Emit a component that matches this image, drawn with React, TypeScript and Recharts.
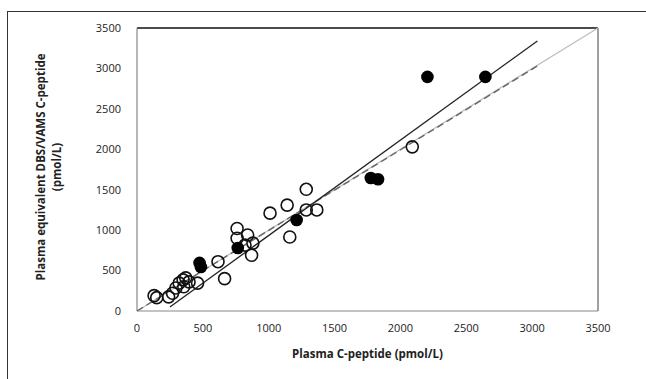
import React from 'react';
import { ScatterChart, Scatter, XAxis, YAxis, ReferenceLine } from 'recharts';

// open circles (one sample type)
const openPoints = [
  { x: 130, y: 190 }, { x: 150, y: 165 }, { x: 240, y: 175 }, { x: 270, y: 220 },
  { x: 295, y: 285 }, { x: 320, y: 345 }, { x: 350, y: 385 }, { x: 370, y: 410 },
  { x: 355, y: 300 }, { x: 395, y: 360 }, { x: 460, y: 345 }, { x: 615, y: 610 },
  { x: 665, y: 400 }, { x: 760, y: 1020 }, { x: 760, y: 900 }, { x: 840, y: 940 },
  { x: 820, y: 815 }, { x: 880, y: 840 }, { x: 870, y: 690 }, { x: 1010, y: 1210 },
  { x: 1140, y: 1310 }, { x: 1160, y: 915 }, { x: 1285, y: 1505 }, { x: 1285, y: 1250 },
  { x: 1365, y: 1250 }, { x: 2090, y: 2030 },
];

// filled circles (other sample type)
const filledPoints = [
  { x: 475, y: 595 }, { x: 485, y: 545 }, { x: 765, y: 780 }, { x: 1212, y: 1125 },
  { x: 1775, y: 1645 }, { x: 1830, y: 1630 }, { x: 2205, y: 2895 }, { x: 2645, y: 2895 },
];

const identityLine = [{ x: 0, y: 0 }, { x: 3500, y: 3500 }];
const dashedFit = [{ x: 0, y: 0 }, { x: 3050, y: 3040 }];
const solidFit = [{ x: 250, y: 50 }, { x: 3040, y: 3340 }];

const ticks = [0, 500, 1000, 1500, 2000, 2500, 3000, 3500];

const font = '"Open Sans", sans-serif';
const noShape = () => <g />;

const OpenDot = (p: any) => (
  <circle cx={p.cx} cy={p.cy} r={6} fill="none" stroke="#111" strokeWidth={1.6} />
);
const FilledDot = (p: any) => <circle cx={p.cx} cy={p.cy} r={6.3} fill="#000" />;

export default function App() {
  return (
    <div style={{ position: 'absolute', left: 0, top: 0, width: 646, height: 379, background: '#fff', fontFamily: font }}>
      <div style={{ position: 'absolute', left: 7, top: 11, width: 650, height: 380, borderLeft: '1.5px solid #333', borderTop: '1.5px solid #333' }} />
      <ScatterChart width={646} height={379} margin={{ top: 28, right: 48, bottom: 38, left: 87 }}>
        <XAxis
          type="number"
          dataKey="x"
          domain={[0, 3500]}
          ticks={ticks}
          height={30}
          tickLine={false}
          axisLine={{ stroke: '#888', strokeWidth: 1.2 }}
          tick={{ fill: '#222', fontSize: 11, fontFamily: font }}
          tickMargin={7}
          label={{ value: 'Plasma C-peptide (pmol/L)', position: 'bottom', offset: 9, style: { fill: '#222', fontSize: 11.5, fontWeight: 700, fontFamily: font } }}
        />
        <YAxis
          type="number"
          dataKey="y"
          domain={[0, 3500]}
          ticks={ticks}
          width={50}
          tickLine={false}
          axisLine={{ stroke: '#888', strokeWidth: 1.2 }}
          tick={{ fill: '#222', fontSize: 11, fontFamily: font }}
          tickMargin={10}
        />
        <ReferenceLine y={3500} stroke="#111" strokeWidth={1.6} />
        <ReferenceLine x={3500} stroke="#777" strokeWidth={1.4} />
        <Scatter data={identityLine} line={{ stroke: '#bdbdbd', strokeWidth: 1.2 }} shape={noShape} isAnimationActive={false} />
        <Scatter data={dashedFit} line={{ stroke: '#666', strokeWidth: 1.4, strokeDasharray: '7 4' }} shape={noShape} isAnimationActive={false} />
        <Scatter data={solidFit} line={{ stroke: '#222', strokeWidth: 1.3 }} shape={noShape} isAnimationActive={false} />
        <Scatter data={openPoints} shape={OpenDot} isAnimationActive={false} />
        <Scatter data={filledPoints} shape={FilledDot} isAnimationActive={false} />
      </ScatterChart>
      <div style={{ position: 'absolute', left: 21, top: 167, width: 0, height: 0 }}>
        <div style={{ position: 'absolute', transform: 'translate(-50%, -50%) rotate(-90deg)', whiteSpace: 'nowrap', textAlign: 'center', fontSize: 11.5, fontWeight: 700, lineHeight: '16px', color: '#222', left: 28 }}>
          Plasma equivalent DBS/VAMS C-peptide<br />(pmol/L)
        </div>
      </div>
    </div>
  );
}
